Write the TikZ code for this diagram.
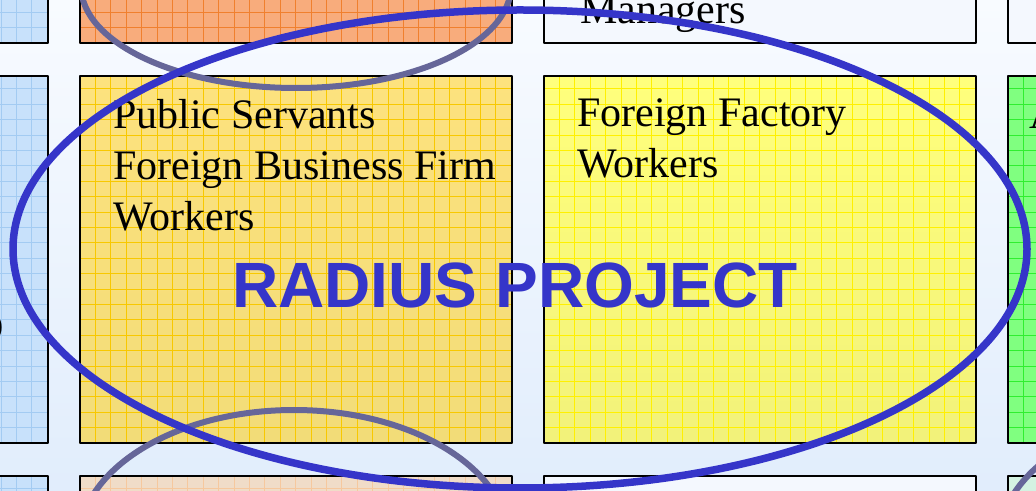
\documentclass[tikz,border=0pt]{standalone}
\usepackage{fontspec}
\setmainfont{Liberation Serif}
\newfontfamily\headfont{Liberation Sans}
\definecolor{bgtop}{HTML}{F8FBFF}
\definecolor{bgbot}{HTML}{E1EDFC}
\definecolor{bluefill}{HTML}{C8E1FB}
\definecolor{bluegrid}{HTML}{A3CBF2}
\definecolor{orangefill}{HTML}{F8AC7C}
\definecolor{orangegrid}{HTML}{F0802E}
\definecolor{goldtop}{HTML}{FDE27E}
\definecolor{goldbot}{HTML}{F2DC78}
\definecolor{goldgrid}{HTML}{F8C800}
\definecolor{yellowtop}{HTML}{FFFF7C}
\definecolor{yellowbot}{HTML}{F2F27A}
\definecolor{yellowgrid}{HTML}{FFF000}
\definecolor{greenfill}{HTML}{80FF80}
\definecolor{greengrid}{HTML}{30EE30}
\definecolor{peachfill}{HTML}{F0DCC8}
\definecolor{peachgrid}{HTML}{F6C89E}
\definecolor{palefill}{HTML}{F4F8FE}
\definecolor{mintfill}{HTML}{D4F2E2}
\definecolor{ringblue}{HTML}{3535C9}
\definecolor{ringgray}{HTML}{666699}

\begin{document}
\begin{tikzpicture}[line cap=round,line join=round,x=1pt,y=1pt,
	cellgrid/.style={line width=0.7pt,step=15.4},
	cellframe/.style={draw=black,line width=2pt},
	boxtext/.style={anchor=base west,align=left,inner sep=0pt,font=\fontsize{42}{51}\selectfont},
	grayring/.style={draw=ringgray,line width=6pt},
	bluering/.style={draw=ringblue,line width=7.5pt}]
	\useasboundingbox (0,0) rectangle (1036,490);
	\clip (0,0) rectangle (1036,490);
	\shade[top color=bgtop,bottom color=bgbot] (0,0) rectangle (1036,490);
	% top row
	\fill[bluefill] (-384,447) rectangle (48,540);
	\draw[cellgrid,bluegrid,xshift=-384pt,yshift=447pt] (0,0) grid (432,93);
	\draw[cellframe] (-384,447) rectangle (48,540);
	\fill[orangefill] (80,447) rectangle (512,540);
	\draw[cellgrid,orangegrid,xshift=80pt,yshift=447pt] (0,0) grid (432,93);
	\draw[cellframe] (80,447) rectangle (512,540);
	\draw[cellframe,fill=palefill] (544,447) rectangle (976,540);
	\draw[cellframe,fill=palefill] (1008,447) rectangle (1440,540);
	% middle row
	\fill[bluefill] (-384,47) rectangle (48,414);
	\draw[cellgrid,bluegrid,xshift=-384pt,yshift=47pt] (0,0) grid (432,367);
	\draw[cellframe] (-384,47) rectangle (48,414);
	\shade[top color=goldtop,bottom color=goldbot] (80,47) rectangle (512,414);
	\draw[cellgrid,goldgrid,xshift=80pt,yshift=47pt] (0,0) grid (432,367);
	\draw[cellframe] (80,47) rectangle (512,414);
	\shade[top color=yellowtop,bottom color=yellowbot] (544,47) rectangle (976,414);
	\draw[cellgrid,yellowgrid,xshift=544pt,yshift=47pt] (0,0) grid (432,367);
	\draw[cellframe] (544,47) rectangle (976,414);
	\fill[greenfill] (1008,47) rectangle (1440,414);
	\draw[cellgrid,greengrid,xshift=1008pt,yshift=47pt] (0,0) grid (432,367);
	\draw[cellframe] (1008,47) rectangle (1440,414);
	% bottom row
	\fill[bluefill] (-384,-60) rectangle (48,14);
	\draw[cellgrid,bluegrid,xshift=-384pt,yshift=-60pt] (0,0) grid (432,74);
	\draw[cellframe] (-384,-60) rectangle (48,14);
	\fill[peachfill] (80,-60) rectangle (512,14);
	\draw[cellgrid,peachgrid,xshift=80pt,yshift=-60pt] (0,0) grid (432,74);
	\draw[cellframe] (80,-60) rectangle (512,14);
	\draw[cellframe,fill=palefill] (544,-60) rectangle (976,14);
	\draw[cellframe,fill=mintfill] (1008,-60) rectangle (1440,14);
	% texts (base anchor sits on the last line)
	\node[boxtext] (managers) at (580,466) {Managers};
	\node[boxtext] (public) at (113,259) {Public Servants\\Foreign Business Firm\\Workers};
	\node[boxtext] (factory) at (577,312) {Foreign Factory\\Workers};
	\node[boxtext] (partA) at (1029,361) {A};
	\node[boxtext,anchor=base east] (partO) at (4,148) {O};
	% rings
	\draw[grayring] (296,504) ellipse [x radius=215,y radius=102];
	\draw[grayring] (294,-52) ellipse [x radius=215,y radius=132];
	\draw[grayring] (1214,-52) ellipse [x radius=215,y radius=132];
	\draw[bluering] (520,241) ellipse [x radius=507,y radius=239];
	\node[anchor=base,inner sep=0pt,text=ringblue,font=\headfont\bfseries\fontsize{64}{70}\selectfont] (radius) at (515,182) {RADIUS PROJECT};
\end{tikzpicture}
\end{document}
